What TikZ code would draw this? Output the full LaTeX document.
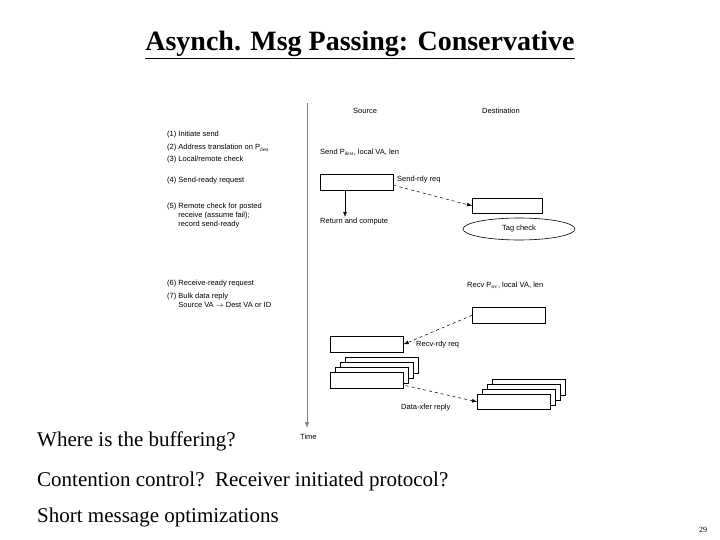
\documentclass[tikz,border=0pt]{standalone}
\usepackage{fontspec}
\setmainfont{Liberation Serif}
\newfontfamily\dsans{Liberation Sans}
\usetikzlibrary{arrows.meta,shapes.geometric}
\begin{document}
\begin{tikzpicture}[x=1pt,y=-1pt,
  small/.style={font=\dsans\fontsize{7.5}{9}\selectfont,anchor=west,inner sep=0pt},
  big/.style={font=\fontsize{21}{24}\selectfont,anchor=west,inner sep=0pt},
  bx/.style={draw,fill=white,line width=0.6pt,minimum width=73pt,minimum height=16pt,inner sep=0pt,anchor=north west},
  dar/.style={dashed,line width=0.5pt,-{Latex[length=5pt]}}]
\useasboundingbox (0,0) rectangle (720,540);
\node[font=\bfseries\fontsize{28}{32}\selectfont] (title) at (360,45) {\underline{Asynch. Msg Passing: Conservative}};
% time axis
\coordinate (t0) at (307,103);
\coordinate (t1) at (307,428);
\draw[gray,line width=0.5pt,-{Latex[length=6pt]}] (t0) -- (t1);
\node[small] (time) at (300,437) {Time};
\node[small] (src) at (353,111) {Source};
\node[small] (dst) at (482,111) {Destination};
% list
\node[small] (l1) at (167,135) {(1) Initiate send};
\node[small] (l2) at (167,148) {(2) Address translation on P$_{\mathrm{dest}}$};
\node[small] (l3) at (167,160) {(3) Local/remote check};
\node[small] (l4) at (167,181) {(4) Send-ready request};
\node[small,align=left,anchor=north west] (l5) at (167,203) {(5) Remote check for posted\\\hphantom{(5) }receive (assume fail);\\\hphantom{(5) }record send-ready};
\node[small] (l6) at (167,284) {(6) Receive-ready request};
\node[small,align=left,anchor=north west] (l7) at (167,293) {(7) Bulk data reply\\\hphantom{(7) }Source VA $\rightarrow$ Dest VA or ID};
% send
\node[small] (send) at (320,152) {Send P$_{\mathrm{dest}}$, local VA, len};
\node[bx] (b1) at (320,174) {};
\node[small] (srq) at (397,180) {Send-rdy req};
\node[bx,minimum width=70pt,minimum height=15pt] (b2) at (472,198) {};
\draw[dar] (b1.east) ++(0,3) coordinate (s1) -- (b2.west);
\node[draw,ellipse,line width=0.6pt,minimum width=112pt,minimum height=22pt,inner sep=0pt,font=\dsans\fontsize{7.5}{9}\selectfont] (tag) at (519,229) {Tag check};
\coordinate (rc) at (345,217);
\draw[line width=0.5pt,-{Latex[length=5pt]}] (b1.south west) ++(25,0) -- (rc);
\node[small] (ret) at (320,222) {Return and compute};
% recv
\node[small] (recv) at (467,285) {Recv P$_{\mathrm{src}}$, local VA, len};
\node[bx] (b3) at (472,307) {};
\node[bx] (b4) at (330,336) {};
\draw[dar] (b3.west) -- (b4.east);
\node[small] (rrq) at (416,345) {Recv-rdy req};
% stacks
\foreach \i in {3,2,1} \node[bx] (s\i) at (330+5*\i,372-5*\i) {};
\node[bx] (s0) at (330,372) {};
\foreach \i in {3,2,1} \node[bx] (d\i) at (477+5*\i,394-5*\i) {};
\node[bx,minimum height=15pt] (d0) at (477,394) {};
\draw[dar] (s0.south east) ++(2,-3) -- (d0.west);
\node[small] (dx) at (401,408) {Data-xfer reply};
% bottom text
\node[big] (q1) at (37,441) {Where is the buffering?};
\node[big] (q2) at (37,481) {Contention control?\ \ Receiver initiated protocol?};
\node[big] (q3) at (37,517) {Short message optimizations};
\node[font=\fontsize{8}{9}\selectfont] (pg) at (703,530) {29};
\end{tikzpicture}
\end{document}
